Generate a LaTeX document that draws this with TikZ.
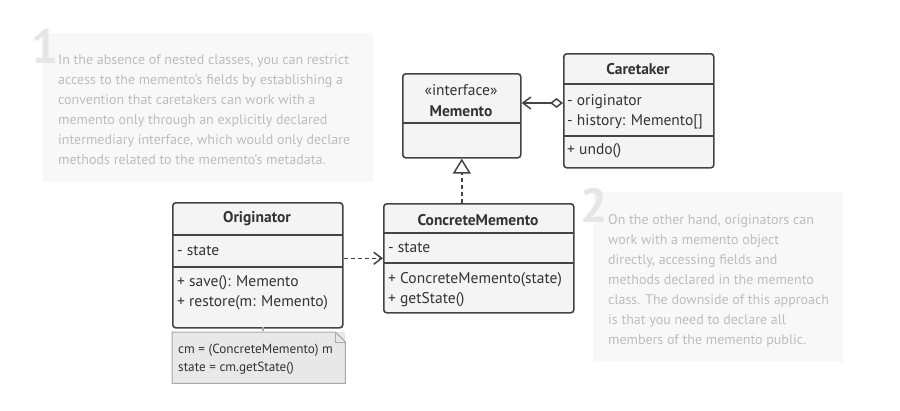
\documentclass[tikz,border=0pt]{standalone}
\usepackage{fontspec}
\setmainfont{PT Sans}
\usetikzlibrary{arrows.meta,positioning}
\definecolor{umlline}{HTML}{444444}
\definecolor{umlfill}{HTML}{F4F4F4}
\definecolor{umltext}{HTML}{333333}
\definecolor{notefill}{HTML}{E8E8E8}
\definecolor{noteline}{HTML}{A8A8A8}
\definecolor{infofill}{HTML}{F8F8F8}
\definecolor{infotext}{HTML}{BDBDBD}
\definecolor{infonum}{HTML}{E6E6E6}
\tikzset{
  classbox/.style={draw=umlline,fill=umlfill,line width=1.6pt,rounded corners=3pt,
    inner sep=0pt,anchor=north west},
  divider/.style={draw=umlline,line width=1.6pt},
  title/.style={font=\fontsize{15.5}{17}\selectfont\bfseries,text=umltext,inner sep=0pt},
  member/.style={font=\fontsize{15.5}{17}\selectfont,text=umltext,inner sep=0pt,anchor=west},
  infobox/.style={fill=infofill,inner sep=0pt,anchor=north west},
  infotxt/.style={font=\fontsize{14}{20}\selectfont,text=infotext,align=left,
    inner sep=0pt,anchor=north west},
  infonumber/.style={font=\fontsize{48}{48}\selectfont\bfseries,text=infonum,inner sep=0pt},
}
\begin{document}
\begin{tikzpicture}[x=1pt,y=-1pt]
\useasboundingbox[fill=white] (0,0) rectangle (900,410);

% side notes
\node[infobox,minimum width=330pt,minimum height=149pt] (info1) at (43,33) {};
\node[infonumber,anchor=north west] (num1) at (31,29) {1};
\node[infotxt] (text1) at (58,54) {In the absence of nested classes, you can restrict\\
  access to the memento's fields by establishing a\\
  convention that caretakers can work with a\\
  memento only through an explicitly declared\\
  intermediary interface, which would only declare\\
  methods related to the memento's metadata.};

\node[infobox,minimum width=250pt,minimum height=170pt] (info2) at (593,192) {};
\node[infonumber,anchor=north west] (num2) at (580,188) {2};
\node[infotxt] (text2) at (608,214) {On the other hand, originators can\\
  work with a memento object\\
  directly, accessing fields and\\
  methods declared in the memento\\
  class. The downside of this approach\\
  is that you need to declare all\\
  members of the memento public.};

% Memento
\node[classbox,minimum width=118pt,minimum height=84pt] (memento) at (402,73) {};
\node[font=\fontsize{15.5}{17}\selectfont,text=umltext,inner sep=0pt] (mementostereo) at (461,90) {«interface»};
\node[title] (mementoname) at (461,111) {Memento};
\draw[divider] (402,123) -- (520,123);

% Caretaker
\node[classbox,minimum width=150pt,minimum height=114pt] (caretaker) at (563,53) {};
\node[title] (caretakername) at (638,69) {Caretaker};
\draw[divider] (563,84) -- (713,84);
\node[member] (ctorig) at (567,102) {- originator};
\node[member] (cthist) at (567,122) {- history: Memento[]};
\draw[divider] (563,136) -- (713,136);
\node[member] (ctundo) at (567,151) {+ undo()};

% Originator
\node[classbox,minimum width=170pt,minimum height=125pt] (originator) at (172,202) {};
\node[title] (originatorname) at (257,219) {Originator};
\draw[divider] (172,235) -- (342,235);
\node[member] (orstate) at (177,251) {- state};
\draw[divider] (172,267) -- (342,267);
\node[member] (orsave) at (177,283) {+ save(): Memento};
\node[member] (orrestore) at (177,303) {+ restore(m: Memento)};

% ConcreteMemento
\node[classbox,minimum width=190pt,minimum height=109pt] (cm) at (383,203) {};
\node[title] (cmname) at (478,220) {ConcreteMemento};
\draw[divider] (383,233) -- (573,233);
\node[member] (cmstate) at (388,248) {- state};
\draw[divider] (383,263) -- (573,263);
\node[member] (cmctor) at (388,280) {+ ConcreteMemento(state)};
\node[member] (cmget) at (388,300) {+ getState()};

% note
\node[fill=notefill,inner sep=0pt,anchor=north west,minimum width=173pt,minimum height=51pt] (note) at (172,332) {};
\draw[noteline,line width=1pt] (note.north west) -- ([xshift=-10pt]note.north east)
  -- ([yshift=-10pt]note.north east) -- (note.south east) -- (note.south west) -- cycle;
\draw[noteline,line width=1pt] ([xshift=-10pt]note.north east) |- ([yshift=-10pt]note.north east);
\node[font=\fontsize{13.2}{18}\selectfont,text=umltext,align=left,inner sep=0pt,anchor=north west]
  (notetext) at (178,344) {cm = (ConcreteMemento) m\\state = cm.getState()};

% connectors
\coordinate (aggr) at (563,103);
\draw[umlline,line width=1.5pt,{Diamond[open,fill=white,length=13pt,width=10pt]}-{Straight Barb[length=8pt,width=12pt]}]
  (aggr) -- (memento.east |- aggr);
\draw[umlline,line width=1.5pt,dashed,dash pattern=on 4pt off 3pt,-{Triangle[open,fill=white,length=15pt,width=18pt,line width=1.5pt]}]
  (cm.north -| memento.south) -- (memento.south);
\draw[umlline,line width=1.5pt,dash pattern=on 4pt off 3pt,-{Straight Barb[length=8pt,width=12pt]}]
  (originator.east |- cm.west) -- (cm.west);
\coordinate (notelink) at (263,327);
\draw[noteline,line width=1.2pt,dash pattern=on 4pt off 3pt] (notelink) -- (notelink |- note.north);
\end{tikzpicture}
\end{document}
